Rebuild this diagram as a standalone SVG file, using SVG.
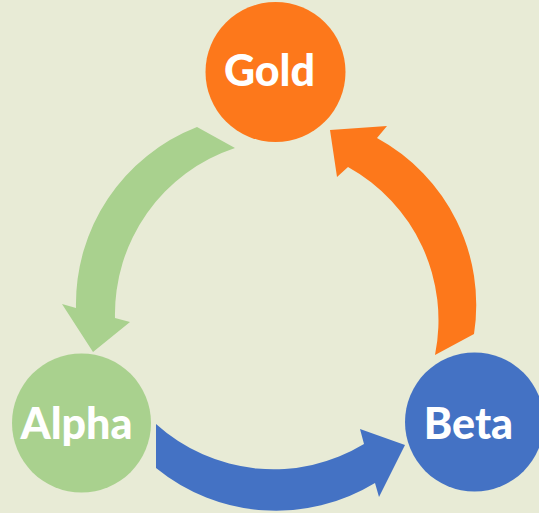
<svg xmlns="http://www.w3.org/2000/svg" width="539" height="513" viewBox="0 0 539 513">
  <style>
    .lbl { font-family: "Lato", "Liberation Sans", sans-serif; font-weight: 900; font-size: 43px; fill: #ffffff; text-anchor: middle; }
    .orange { fill: #FD781B; }
    .green { fill: #A9D18E; }
    .blue { fill: #4472C4; }
  </style>
  <rect x="0" y="0" width="539" height="513" fill="#E8EBD6"/>
  <g id="connectors">
    <path id="arrow-gold-alpha" class="green" d="M235,148 A175 175 0 0 0 115,318 L130,322 L93,352 L62,304 L76,308 A190 190 0 0 1 197,127 Z"/>
    <path id="arrow-alpha-beta" class="blue" d="M156,424 A175 175 0 0 0 364,444 L360,429 L405,445 L379,497 L375,483 A190 190 0 0 1 156,468 Z"/>
    <path id="arrow-beta-gold" class="orange" d="M474,334 A190 190 0 0 0 377,138 L387,126 L330,130 L337,177 L348,167 A175 175 0 0 1 435,355 Z"/>
  </g>
  <g id="node-gold">
    <circle class="orange" cx="275.5" cy="72" r="70"/>
    <text class="lbl" x="269.5" y="86">Gold</text>
  </g>
  <g id="node-alpha">
    <circle class="green" cx="81.5" cy="423" r="69.5"/>
    <text class="lbl" x="76.5" y="439">Alpha</text>
  </g>
  <g id="node-beta">
    <circle class="blue" cx="474.5" cy="422" r="69.5"/>
    <text class="lbl" x="468.5" y="439">Beta</text>
  </g>
</svg>
